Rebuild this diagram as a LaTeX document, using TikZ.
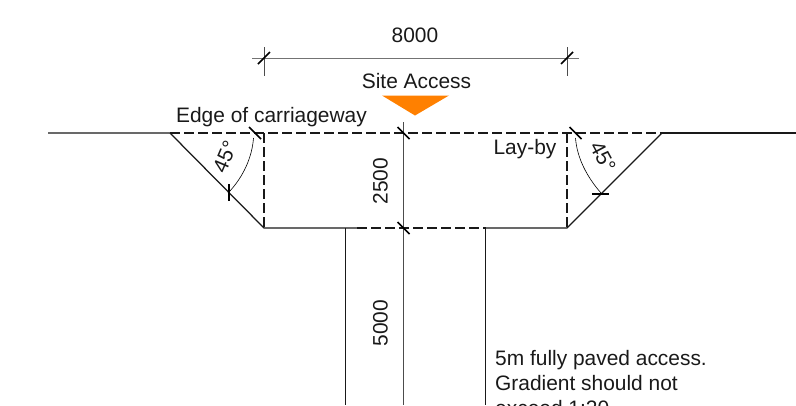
\documentclass[tikz,border=0pt]{standalone}
\usepackage{fontspec}
\setmainfont{Liberation Sans}
\tikzset{
  lbl/.style={inner sep=0pt,font=\fontsize{21}{24}\selectfont,text=black!90},
  road/.style={draw=black!90,line width=1.25pt},
  dashroad/.style={draw=black!90,line width=1.3pt,dash pattern=on 9.5bp off 4.5bp},
  dim/.style={draw=black!55,line width=1pt},
  ext/.style={draw=black!70,line width=0.8pt},
  tick/.style={draw=black,line width=1.6pt},
}
\begin{document}
\begin{tikzpicture}[x=1bp,y=-1bp]
\useasboundingbox (0,0) rectangle (796,405);
\clip (0,0) rectangle (796,405);
% key points
\coordinate (L0) at (48,133);
\coordinate (LA) at (170,133);
\coordinate (LB) at (264,133);
\coordinate (C0) at (403.5,133);
\coordinate (RB) at (567,133);
\coordinate (RA) at (662,133);
\coordinate (LC) at (264,228);
\coordinate (RC) at (567,228);
\coordinate (C1) at (403.5,228);
\coordinate (P1) at (345.5,228);
\coordinate (P1d) at (357,228);
\coordinate (P2) at (485.5,228);
\coordinate (P1b) at (345.5,405);
\coordinate (P2b) at (485.5,405);
\coordinate (C2) at (403.5,405);
\coordinate (C00) at (403.5,122);
\coordinate (D1) at (264,58);
\coordinate (D2) at (567,58);
\coordinate (D1e) at (252,58);
\coordinate (D2e) at (579,58);
\coordinate (A1) at (229,192);
\coordinate (A2) at (255,133);
\coordinate (A3) at (575.5,133);
\coordinate (A4) at (601,193);
% road
\draw[road] (L0) -- (LA) -- (LC) -- (P1d);
\draw[road] (RA) -- (RC) -- (P2);
\draw[road] (RA) -- (796,133);
\draw[dashroad] (LA) -- (RA);
\draw[dashroad] (P1d) -- (P2);
\draw[dashroad] (LB) -- (LC);
\draw[dashroad] (RB) -- (RC);
\draw[road] (P1) -- (P1b);
\draw[road] (P2) -- (P2b);
% centre dimension
\draw[ext] (C00) -- (C2);
% top dimension
\draw[dim] (D1e) -- (D2e);
\draw[ext] (264,47) -- (264,76);
\draw[ext] (567,47) -- (567,76);
\foreach \p in {D1,D2} \draw[tick] ([shift={(-6,6)}]\p) -- ([shift={(6,-6)}]\p);
\foreach \p in {C0,C1,A2,A3} \draw[tick] ([shift={(-6,-6)}]\p) -- ([shift={(6,6)}]\p);
\draw[tick] (229,184) -- (229,201);
\draw[tick] (592,194) -- (609,194);
% arcs
\draw[draw=black,line width=0.6pt] (A2) ++(-1.5,5) .. controls (252,158) and (243,177) .. (A1);
\draw[draw=black,line width=0.6pt] (A3) ++(0,5) .. controls (577,158) and (587,177) .. (A4);
% marker
\fill[fill={rgb,255:red,255;green,128;blue,0}] (382,95.5) -- (449,95.5) -- (415,115.5) -- cycle;
% labels
\node[lbl] (t8000) at (415,35) {8000};
\node[lbl] (tsite) at (416.5,81.5) {Site Access};
\node[lbl] (tedge) at (271.5,117) {Edge of carriageway};
\node[lbl] (tlay) at (525,149) {Lay-by};
\node[lbl,rotate=90] (t2500) at (380.5,181) {2500};
\node[lbl,rotate=90] (t5000) at (380.5,323) {5000};
\node[lbl,rotate=67] (ta1) at (225,157) {45°};
\node[lbl,rotate=-62] (ta2) at (603,157) {45°};
\node[lbl,anchor=base west] (tnote1) at (495,365) {5m fully paved access.};
\node[lbl,anchor=base west] (tnote2) at (495,390) {Gradient should not};
\node[lbl,anchor=base west] (tnote3) at (495,415) {exceed 1:20};
\end{tikzpicture}
\end{document}
